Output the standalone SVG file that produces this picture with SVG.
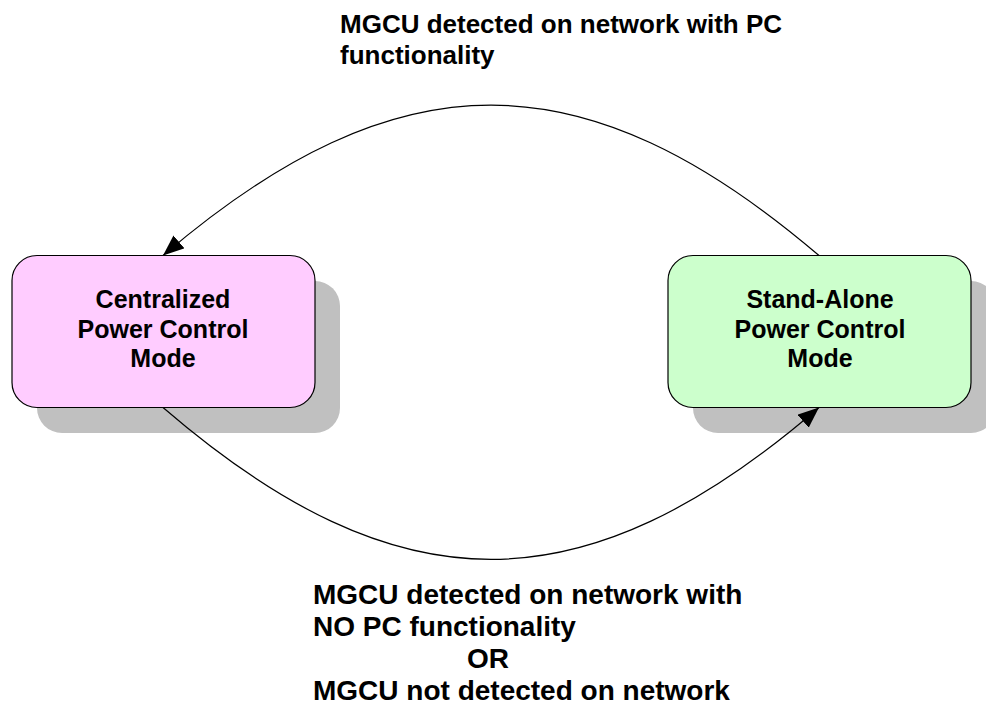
<svg xmlns="http://www.w3.org/2000/svg" width="986" height="711" viewBox="0 0 986 711">
<style>
.shadow{fill:#C0C0C0;stroke:none}
.box{stroke:#000;stroke-width:1.2}
.t{font-family:"Liberation Sans",Arial,sans-serif;font-weight:bold;fill:#000}
.nt{font-size:25px;text-anchor:middle}
.lt{font-size:26px}
.lb{font-size:28px}
.edge{fill:none;stroke:#000;stroke-width:1.2}
</style>
<defs>
<marker id="arr" markerUnits="userSpaceOnUse" markerWidth="24" markerHeight="20" refX="21" refY="8.5" orient="auto">
<path d="M0,0 L21,8.5 L0,17 Z" fill="#000"/>
</marker>
</defs>
<rect width="986" height="711" fill="#fff"/>
<g id="node-centralized">
<rect class="shadow" x="37" y="281" width="303" height="152" rx="25"/>
<rect class="box" x="12" y="255.5" width="303" height="152" rx="25" fill="#FFCCFF"/>
<text class="t nt" x="163" y="308">Centralized</text>
<text class="t nt" x="163" y="337.5">Power Control</text>
<text class="t nt" x="163" y="367">Mode</text>
</g>
<g id="node-standalone">
<rect class="shadow" x="693" y="281" width="303" height="152" rx="25"/>
<rect class="box" x="668" y="255.5" width="303" height="152" rx="25" fill="#CCFFCC"/>
<text class="t nt" x="820" y="308">Stand-Alone</text>
<text class="t nt" x="820" y="337.5">Power Control</text>
<text class="t nt" x="820" y="367">Mode</text>
</g>
<g id="connectors">
<path class="edge" d="M819,255.5 C584,55 398,55 163,255.5" marker-end="url(#arr)"/>
<path class="edge" d="M163,407.5 C398,610 584,610 819,407.5" marker-end="url(#arr)"/>
</g>
<g id="labels">
<text class="t lt" x="340" y="33">MGCU detected on network with PC</text>
<text class="t lt" x="340" y="64">functionality</text>
<text class="t lb" x="313" y="604">MGCU detected on network with</text>
<text class="t lb" x="313" y="636">NO PC functionality</text>
<text class="t lb" x="488" y="668" text-anchor="middle">OR</text>
<text class="t lb" x="313" y="700">MGCU not detected on network</text>
</g>
</svg>
